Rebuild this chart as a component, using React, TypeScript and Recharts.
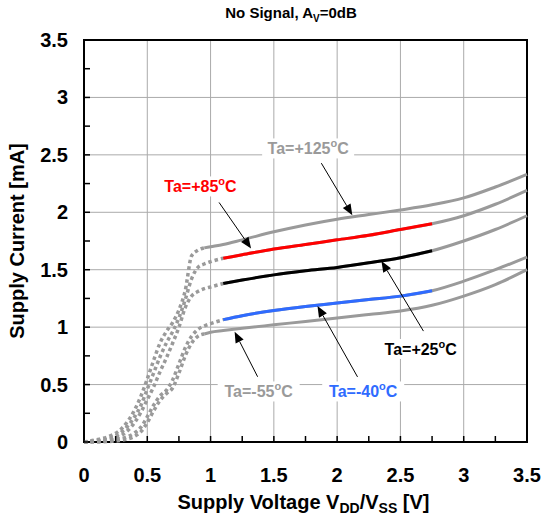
import React from 'react';
import {
  LineChart,
  Line,
  XAxis,
  YAxis,
  CartesianGrid,
  ReferenceArea,
  ReferenceDot,
} from 'recharts';

// supply voltage samples [V]
const VOLTS = [
  0, 0.1, 0.2, 0.3, 0.4, 0.45, 0.5, 0.55, 0.6, 0.65, 0.7, 0.75, 0.8, 0.85, 0.9, 0.95, 1.0,
  1.1, 1.25, 1.5, 1.75, 2.0, 2.25, 2.5, 2.75, 3.0, 3.25, 3.5,
];

// supply current [mA] per temperature, same length as VOLTS
const I_P125 = [
  0, 0.02, 0.05, 0.12, 0.28, 0.4, 0.55, 0.71, 0.86, 0.96, 1.04, 1.15, 1.32, 1.62, 1.67, 1.69, 1.7,
  1.72, 1.76, 1.83, 1.89, 1.94, 1.98, 2.02, 2.065, 2.125, 2.22, 2.33,
];
const I_P85 = [
  0, 0.01, 0.03, 0.09, 0.22, 0.32, 0.46, 0.6, 0.74, 0.86, 0.96, 1.08, 1.24, 1.42, 1.52, 1.55, 1.57,
  1.6, 1.63, 1.68, 1.72, 1.76, 1.8, 1.85, 1.9, 1.97, 2.07, 2.19,
];
const I_P25 = [
  0, 0.01, 0.02, 0.06, 0.17, 0.26, 0.37, 0.48, 0.61, 0.73, 0.86, 1.0, 1.17, 1.27, 1.31, 1.335, 1.35,
  1.38, 1.41, 1.455, 1.49, 1.52, 1.56, 1.605, 1.665, 1.75, 1.85, 1.97,
];
const I_M40 = [
  0, 0.005, 0.01, 0.03, 0.08, 0.13, 0.22, 0.32, 0.4, 0.45, 0.54, 0.68, 0.82, 0.92, 0.98, 1.01, 1.03,
  1.065, 1.1, 1.145, 1.18, 1.21, 1.24, 1.27, 1.317, 1.4, 1.5, 1.61,
];
const I_M55 = [
  0, 0, 0.005, 0.015, 0.05, 0.09, 0.17, 0.27, 0.36, 0.42, 0.47, 0.6, 0.75, 0.86, 0.92, 0.94, 0.955,
  0.97, 0.99, 1.02, 1.05, 1.08, 1.11, 1.14, 1.19, 1.27, 1.37, 1.5,
];

const X_TICKS = [0, 0.25, 0.5, 0.75, 1, 1.25, 1.5, 1.75, 2, 2.25, 2.5, 2.75, 3, 3.25, 3.5];
const Y_TICKS = [0, 0.25, 0.5, 0.75, 1, 1.25, 1.5, 1.75, 2, 2.25, 2.5, 2.75, 3, 3.25, 3.5];
const GRID = [0, 0.5, 1, 1.5, 2, 2.5, 3, 3.5];

const GRAY = '#9a9a9a';
const FONT = '"Liberation Sans", Arial, sans-serif';

// measured range is drawn in colour, outside it dotted / solid grey
const COLOR_FROM = 1.1;
const COLOR_TO = 2.75;

const CURVES = [
  { key: 'p125', values: I_P125, dashEnd: 0.95, color: null },
  { key: 'p85', values: I_P85, dashEnd: 1.1, color: '#ff0000' },
  { key: 'p25', values: I_P25, dashEnd: 1.1, color: '#000000' },
  { key: 'm40', values: I_M40, dashEnd: 1.1, color: '#2f6bff' },
  { key: 'm55', values: I_M55, dashEnd: 0.95, color: null },
];

// label: text, colour, position (V, mA)
// arrow: tip (V, mA) and tail offset in px
const LABELS = [
  { text: '+125', color: GRAY, v: 1.771, i: 2.556, tipV: 2.12, tipI: 1.975, dx: -31, dy: -52 },
  { text: '+85', color: '#ff0000', v: 0.92, i: 2.225, tipV: 1.32, tipI: 1.685, dx: -32, dy: -46 },
  { text: '+25', color: '#000000', v: 2.66, i: 0.81, tipV: 2.35, tipI: 1.575, dx: 42, dy: 70 },
  { text: '-40', color: '#2f6bff', v: 2.206, i: 0.44, tipV: 1.845, tipI: 1.185, dx: 40, dy: 71 },
  { text: '-55', color: GRAY, v: 1.38, i: 0.44, tipV: 1.19, tipI: 0.96, dx: 23, dy: 45 },
];

const pick = (values: number[], from: number, to: number) =>
  VOLTS.map((v, k) => ({ v, i: values[k] })).filter((p) => p.v >= from - 1e-9 && p.v <= to + 1e-9);

const isMajor = (v: number) => Math.abs(v * 2 - Math.round(v * 2)) < 1e-6;

const XTick = ({ x, y, payload }: any) => (
  <g>
    <line x1={x} x2={x} y1={y} y2={y - 6} stroke="#000" strokeWidth={1.5} />
    {isMajor(payload.value) && (
      <text x={x} y={y + 40} textAnchor="middle" fontFamily={FONT} fontWeight="bold" fontSize={20} fill="#000">
        {payload.value}
      </text>
    )}
  </g>
);

const YTick = ({ x, y, payload }: any) => (
  <g>
    <line x1={x} x2={x + 6} y1={y} y2={y} stroke="#000" strokeWidth={1.5} />
    {isMajor(payload.value) && (
      <text x={x - 16} y={y + 7} textAnchor="end" fontFamily={FONT} fontWeight="bold" fontSize={20} fill="#000">
        {payload.value}
      </text>
    )}
  </g>
);

const XTitle = ({ viewBox }: any) => {
  const cx = viewBox.x + viewBox.width / 2;
  return (
    <text x={cx - 2} y={viewBox.y + 67} textAnchor="middle" fontFamily={FONT} fontWeight="bold" fontSize={20} fill="#000">
      Supply Voltage V<tspan fontSize={14} dy={4}>DD</tspan>
      <tspan dy={-4}>/V</tspan>
      <tspan fontSize={14} dy={4}>SS</tspan>
      <tspan dy={-4}> [V]</tspan>
    </text>
  );
};

const YTitle = ({ viewBox }: any) => {
  const cy = viewBox.y + viewBox.height / 2;
  const cx = 17;
  return (
    <text
      x={cx}
      y={cy}
      transform={`rotate(-90, ${cx}, ${cy})`}
      textAnchor="middle"
      dominantBaseline="central"
      fontFamily={FONT}
      fontWeight="bold"
      fontSize={20}
      fill="#000"
    >
      Supply Current [mA]
    </text>
  );
};

const LabelShape = ({ cx, cy, text, color }: any) => {
  const w = text.length > 3 ? 92 : 82;
  return (
    <g>
      <rect x={cx - w / 2} y={cy - 10} width={w} height={20} fill="#fff" />
      <text x={cx} y={cy + 6} textAnchor="middle" fontFamily={FONT} fontWeight="bold" fontSize={16} fill={color}>
        Ta={text}
        <tspan fontSize={11} dy={-7}>o</tspan>
        <tspan dy={7}>C</tspan>
      </text>
    </g>
  );
};

const ArrowShape = ({ cx, cy, dx, dy }: any) => {
  const len = Math.hypot(dx, dy);
  const ux = -dx / len;
  const uy = -dy / len;
  const head = 11;
  const half = 4.5;
  const bx = cx - ux * head;
  const by = cy - uy * head;
  return (
    <g>
      <line x1={cx + dx} y1={cy + dy} x2={bx} y2={by} stroke="#000" strokeWidth={1} />
      <polygon
        points={`${cx},${cy} ${bx - uy * half},${by + ux * half} ${bx + uy * half},${by - ux * half}`}
        fill="#000"
      />
    </g>
  );
};

export default function App() {
  return (
    <div style={{ position: 'absolute', left: 0, top: 0, width: 543, height: 521, background: '#fff' }}>
      <div
        style={{
          position: 'absolute',
          top: 4,
          left: 291,
          transform: 'translateX(-50%)',
          whiteSpace: 'nowrap',
          fontFamily: FONT,
          fontWeight: 'bold',
          fontSize: 15,
        }}
      >
        No Signal, A<sub style={{ fontSize: 10 }}>V</sub>=0dB
      </div>
      <LineChart width={543} height={521} margin={{ top: 40, right: 16, bottom: 0, left: 0 }}>
        <CartesianGrid stroke="#aaaaaa" strokeWidth={1} horizontalValues={GRID} verticalValues={GRID} />
        <XAxis
          type="number"
          dataKey="v"
          domain={[0, 3.5]}
          ticks={X_TICKS}
          interval={0}
          height={79}
          tickSize={0}
          tickMargin={0}
          axisLine={false}
          tickLine={false}
          tick={<XTick />}
          label={{ content: (p: any) => <XTitle {...p} /> }}
        />
        <YAxis
          type="number"
          dataKey="i"
          domain={[0, 3.5]}
          ticks={Y_TICKS}
          interval={0}
          width={84}
          tickSize={0}
          tickMargin={0}
          axisLine={false}
          tickLine={false}
          tick={<YTick />}
          label={{ content: (p: any) => <YTitle {...p} /> }}
        />
        {CURVES.map((c) => (
          <Line
            key={c.key + '-dot'}
            data={pick(c.values, 0, c.dashEnd)}
            dataKey="i"
            type="monotone"
            stroke={GRAY}
            strokeWidth={3.5}
            strokeDasharray="3.5 3"
            dot={false}
            activeDot={false}
            isAnimationActive={false}
          />
        ))}
        {CURVES.map((c) => (
          <Line
            key={c.key + '-solid'}
            data={pick(c.values, c.dashEnd, 3.5)}
            dataKey="i"
            type="monotone"
            stroke={GRAY}
            strokeWidth={3}
            dot={false}
            activeDot={false}
            isAnimationActive={false}
          />
        ))}
        {CURVES.filter((c) => c.color).map((c) => (
          <Line
            key={c.key + '-meas'}
            data={pick(c.values, COLOR_FROM, COLOR_TO)}
            dataKey="i"
            type="monotone"
            stroke={c.color as string}
            strokeWidth={3}
            dot={false}
            activeDot={false}
            isAnimationActive={false}
          />
        ))}
        <ReferenceArea x1={0} x2={3.5} y1={0} y2={3.5} fill="none" stroke="#000" strokeWidth={2} />
        {LABELS.map((l) => (
          <ReferenceDot
            key={'arrow' + l.text}
            x={l.tipV}
            y={l.tipI}
            shape={(p: any) => <ArrowShape {...p} dx={l.dx} dy={l.dy} />}
          />
        ))}
        {LABELS.map((l) => (
          <ReferenceDot
            key={'label' + l.text}
            x={l.v}
            y={l.i}
            shape={(p: any) => <LabelShape {...p} text={l.text} color={l.color} />}
          />
        ))}
      </LineChart>
    </div>
  );
}
